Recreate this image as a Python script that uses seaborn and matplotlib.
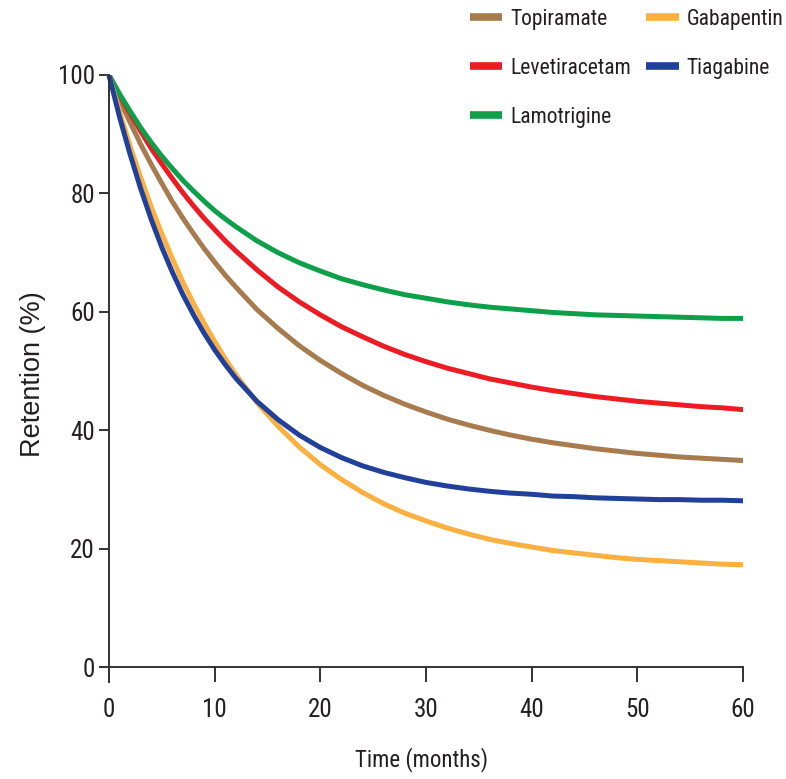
import numpy as np
import pandas as pd
import matplotlib
matplotlib.use("Agg")
import matplotlib.pyplot as plt
from matplotlib import font_manager as fm
import seaborn as sns

# ---- data ----
months = [0, 1, 2, 3, 4, 5, 6, 7, 8, 9, 10, 11, 12, 14, 16, 18, 20, 22, 24, 26,
          28, 30, 32, 34, 36, 38, 40, 42, 44, 46, 48, 50, 52, 54, 56, 58, 60]

topiramate = [100, 95.8, 92.0, 88.3, 84.9, 81.7, 78.6, 75.8, 73.2, 70.7, 68.4, 66.2,
              64.2, 60.4, 57.2, 54.3, 51.8, 49.6, 47.6, 45.9, 44.4, 43.1, 41.9,
              40.9, 40.0, 39.2, 38.5, 37.9, 37.4, 36.9, 36.5, 36.1, 35.8, 35.5,
              35.3, 35.1, 34.9]
levetiracetam = [100, 96.6, 93.5, 90.5, 87.6, 85.0, 82.5, 80.1, 77.9, 75.8, 73.9,
                 72.0, 70.3, 67.1, 64.2, 61.7, 59.5, 57.5, 55.8, 54.2, 52.8, 51.6,
                 50.5, 49.6, 48.7, 48.0, 47.3, 46.7, 46.2, 45.7, 45.3, 44.9, 44.6,
                 44.3, 44.0, 43.8, 43.5]
lamotrigine = [100, 96.8, 93.9, 91.1, 88.6, 86.3, 84.2, 82.2, 80.4, 78.7, 77.1,
               75.7, 74.4, 72.0, 70.0, 68.3, 66.9, 65.6, 64.6, 63.7, 62.9, 62.3,
               61.7, 61.2, 60.8, 60.5, 60.2, 59.9, 59.7, 59.5, 59.4, 59.3, 59.2,
               59.1, 59.0, 58.9, 58.9]
gabapentin = [100, 93.8, 88.0, 82.7, 77.7, 73.2, 69.0, 65.0, 61.4, 58.1, 55.0, 52.1,
              49.4, 44.7, 40.7, 37.2, 34.2, 31.7, 29.5, 27.6, 26.0, 24.7, 23.5,
              22.5, 21.6, 20.9, 20.3, 19.7, 19.3, 18.9, 18.5, 18.2, 18.0, 17.8,
              17.6, 17.4, 17.3]
tiagabine = [100, 92.9, 86.6, 80.8, 75.6, 70.9, 66.7, 62.9, 59.5, 56.4, 53.6, 51.1,
             48.8, 44.9, 41.8, 39.2, 37.1, 35.4, 34.0, 32.9, 32.0, 31.2, 30.6,
             30.1, 29.7, 29.4, 29.2, 28.9, 28.8, 28.6, 28.5, 28.4, 28.3, 28.3,
             28.2, 28.2, 28.1]

drugs = ["Topiramate", "Levetiracetam", "Lamotrigine", "Gabapentin", "Tiagabine"]
series = [topiramate, levetiracetam, lamotrigine, gabapentin, tiagabine]
colors = ["#A87B4F", "#ED1C24", "#0E9F4A", "#FBB040", "#21409A"]

x_ticks = [0, 10, 20, 30, 40, 50, 60]
y_ticks = [0, 20, 40, 60, 80, 100]

df = pd.DataFrame({
    "Month": months * len(drugs),
    "Retention": sum(series, []),
    "Drug": sum([[d] * len(months) for d in drugs], []),
})


# ---- fonts ----
def has_font(fam, stretch="normal"):
    try:
        path = fm.findfont(fm.FontProperties(family=fam, stretch=stretch),
                           fallback_to_default=False)
        return path
    except Exception:
        return None


cond_fam, cond_stretch = "DejaVu Sans", "normal"
for fam in ["Liberation Sans Narrow", "Arial Narrow", "Roboto Condensed",
            "Open Sans Condensed", "Noto Sans Condensed"]:
    if has_font(fam):
        cond_fam = fam
        break
else:
    p = has_font("DejaVu Sans", "condensed")
    if p and "Condensed" in p:
        cond_stretch = "condensed"
    else:
        p2 = has_font("Roboto", "condensed")
        if p2 and "Condensed" in p2:
            cond_fam, cond_stretch = "Roboto", "condensed"

reg_fam = "Liberation Sans" if has_font("Liberation Sans") else "DejaVu Sans"

# ---- style ----
sns.set_theme(style="white")
plt.rcParams["font.family"] = [cond_fam, "DejaVu Sans"]
plt.rcParams["font.stretch"] = cond_stretch
ink = "#231F20"

fig = plt.figure(figsize=(7.86, 7.79), dpi=100)
ax = fig.add_axes([100 / 786, 1 - 682 / 779, (743 - 100) / 786, (682 - 75) / 779])

sns.lineplot(data=df, x="Month", y="Retention", hue="Drug", hue_order=drugs,
             palette=dict(zip(drugs, colors)), linewidth=3.6, ax=ax,
             solid_capstyle="round", solid_joinstyle="round")

ax.set_xlim(-0.85, 60)
ax.set_ylim(-2.5, 100)
ax.spines["left"].set_position(("data", 0))
ax.spines["bottom"].set_position(("data", 0))
for s in ["top", "right"]:
    ax.spines[s].set_visible(False)
for s in ["left", "bottom"]:
    ax.spines[s].set_color("#333333")
    ax.spines[s].set_linewidth(1.4)

ax.set_xticks(x_ticks)
ax.set_yticks(y_ticks)
ax.tick_params(axis="x", direction="out", length=11, width=1.4, color="#333333",
               pad=11, labelsize=18, labelcolor=ink, bottom=True)
ax.tick_params(axis="y", direction="out", length=7, width=1.4, color="#333333",
               pad=3, labelsize=18, labelcolor=ink, left=True)

ax.set_xlabel("Time (months)", fontsize=16.5, color=ink, labelpad=18)
ax.set_ylabel("")
fig.text(33 / 786, 1 - 374 / 779, "Retention (%)", rotation=90, ha="center",
         va="center", fontsize=19.5, color=ink, family=[reg_fam, "DejaVu Sans"],
         fontstretch="normal")

handles, labels = ax.get_legend_handles_labels()
ax.get_legend().remove()
leg = fig.legend(handles, labels, loc="upper left",
                 bbox_to_anchor=(470 / 786, 1 - 9 / 779), ncol=2, frameon=False,
                 fontsize=15.5, borderpad=0, borderaxespad=0, handlelength=1.5,
                 handletextpad=0.38, columnspacing=0.7, labelspacing=1.3)
for t in leg.get_texts():
    t.set_color(ink)
for ln in leg.get_lines():
    ln.set_linewidth(5.5)
    ln.set_solid_capstyle("butt")

fig.savefig("out.png", dpi=100)
